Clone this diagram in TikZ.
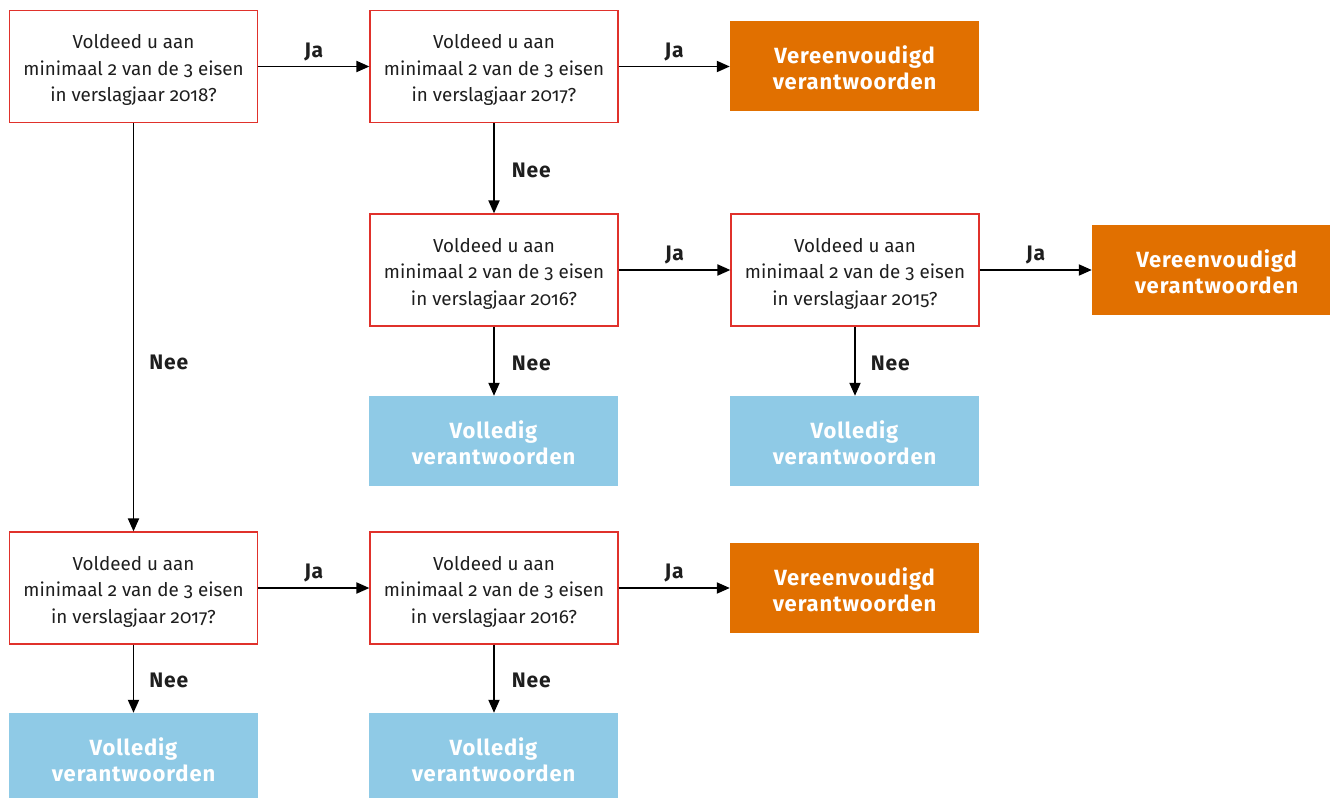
\documentclass[tikz,border=0pt]{standalone}
\usepackage{fontspec}
\setmainfont{Fira Sans}[Numbers=OldStyle]
\usetikzlibrary{arrows.meta}
\definecolor{rbred}{HTML}{E0312B}
\definecolor{rorange}{HTML}{E17000}
\definecolor{rblue}{HTML}{8FCAE6}
\definecolor{txt}{HTML}{1E1E1E}
\begin{document}
\begin{tikzpicture}[x=1pt,y=-1pt,
  q/.style={draw=rbred,line width=1.2pt,fill=white,minimum width=248pt,minimum height=112pt,inner sep=0pt},
  qt/.style={align=center,font=\fontsize{18.8}{26.5}\selectfont,text=txt,inner sep=0pt},
  ora/.style={fill=rorange,minimum width=249pt,minimum height=90pt,inner sep=0pt},
  blu/.style={fill=rblue,minimum width=249pt,minimum height=90pt,inner sep=0pt},
  bt/.style={align=center,font=\fontsize{22}{26.5}\selectfont\bfseries\addfontfeatures{LetterSpace=4},text=white,inner sep=0pt},
  arr/.style={-{Triangle[length=13pt,width=11pt]},line width=1.9pt,draw=black},
  lab/.style={font=\fontsize{21}{24}\selectfont\bfseries\addfontfeatures{LetterSpace=4},text=txt,inner sep=0pt}]
\useasboundingbox (0,0) rectangle (1330,798);
\newcommand{\qtext}[1]{Voldeed u aan\\minimaal 2 van de 3 eisen\\in verslagjaar #1?}
% boxes
\node[q] (q1) at (133.5,66.5) {};
\node[q] (q2) at (494,66.5) {};
\node[ora] (o1) at (854.5,66) {};
\node[q] (q3) at (494,270) {};
\node[q] (q4) at (855,270) {};
\node[ora,minimum width=238pt] (o2) at (1211,270) {};
\node[blu] (b1) at (493.5,441) {};
\node[blu] (b2) at (854.5,441) {};
\node[q] (q5) at (133.5,588) {};
\node[q] (q6) at (494,588) {};
\node[ora] (o3) at (854.5,588) {};
\node[blu,minimum height=85pt] (b3) at (133.5,755.5) {};
\node[blu,minimum height=85pt] (b4) at (493.5,755.5) {};
% texts
\node[qt] (q1t) at ([yshift=-3.5pt]q1.center) {\qtext{2018}};
\node[qt] (q2t) at ([yshift=-3.5pt]q2.center) {\qtext{2017}};
\node[qt] (q3t) at ([yshift=-3.5pt]q3.center) {\qtext{2016}};
\node[qt] (q4t) at ([yshift=-3.5pt]q4.center) {\qtext{2015}};
\node[qt] (q5t) at ([yshift=-3.5pt]q5.center) {\qtext{2017}};
\node[qt] (q6t) at ([yshift=-3.5pt]q6.center) {\qtext{2016}};
\node[bt] (o1t) at ([yshift=-2pt]o1.center) {Vereenvoudigd\\verantwoorden};
\node[bt] (o2t) at ([xshift=5.5pt,yshift=-2pt]o2.center) {Vereenvoudigd\\verantwoorden};
\node[bt] (o3t) at ([yshift=-2pt]o3.center) {Vereenvoudigd\\verantwoorden};
\node[bt] (b1t) at ([yshift=-2pt]b1.center) {Volledig\\verantwoorden};
\node[bt] (b2t) at ([yshift=-2pt]b2.center) {Volledig\\verantwoorden};
\node[bt] (b3t) at ([yshift=-4.5pt]b3.center) {Volledig\\verantwoorden};
\node[bt] (b4t) at ([yshift=-4.5pt]b4.center) {Volledig\\verantwoorden};
% Ja arrows
\draw[arr] (q1.east) -- (q2.west) node[lab,midway,yshift=15pt] {Ja};
\draw[arr] (q2.east) -- (o1.west |- q2.east) node[lab,midway,yshift=15pt] {Ja};
\draw[arr] (q3.east) -- (q4.west) node[lab,midway,yshift=15pt] {Ja};
\draw[arr] (q4.east) -- (o2.west) node[lab,midway,yshift=15pt] {Ja};
\draw[arr] (q5.east) -- (q6.west) node[lab,midway,yshift=15pt] {Ja};
\draw[arr] (q6.east) -- (o3.west) node[lab,midway,yshift=15pt] {Ja};
% Nee arrows
\draw[arr] (q2.south) -- (q3.north) node[lab,midway,anchor=west,xshift=17pt,yshift=-2pt] {Nee};
\draw[arr] (q3.south) -- (q3.south |- b1.north) node[lab,midway,anchor=west,xshift=17pt,yshift=-2pt] {Nee};
\draw[arr] (q4.south) -- (q4.south |- b2.north) node[lab,midway,anchor=west,xshift=15pt,yshift=-2pt] {Nee};
\draw[arr] (q1.south) -- (q5.north) node[lab,pos=0.587,anchor=west,xshift=15pt] {Nee};
\draw[arr] (q5.south) -- (q5.south |- b3.north) node[lab,midway,anchor=west,xshift=15pt,yshift=-2pt] {Nee};
\draw[arr] (q6.south) -- (q6.south |- b4.north) node[lab,midway,anchor=west,xshift=17pt,yshift=-2pt] {Nee};
\end{tikzpicture}
\end{document}
